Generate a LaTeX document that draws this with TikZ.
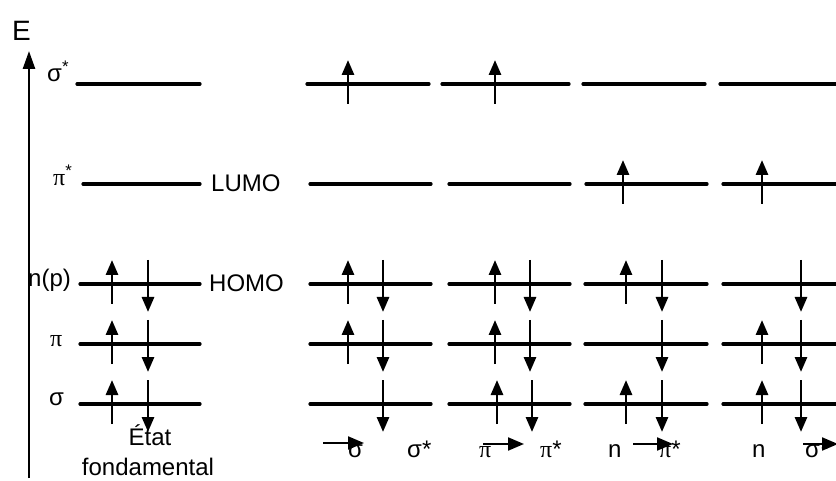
\documentclass[tikz,border=0pt]{standalone}
\usepackage{fontspec}
\setmainfont{Liberation Sans}
\newfontfamily\pifont{Liberation Serif}
\usetikzlibrary{arrows.meta}
\newcommand{\mylvl}[4]{\coordinate (#1a) at (#2,#4); \coordinate (#1b) at (#3,#4); \draw[levelline] (#1a) -- (#1b);}
\newcommand{\myup}[3]{\coordinate (#1a) at (#2,#3+20); \coordinate (#1b) at (#2,#3-24); \draw[spinup] (#1a) -- (#1b);}
\newcommand{\mydn}[3]{\coordinate (#1a) at (#2,#3-24); \coordinate (#1b) at (#2,#3+28); \draw[spinup] (#1a) -- (#1b);}
\newcommand{\mytr}[4]{\coordinate (#1a) at (#2,#4); \coordinate (#1b) at (#3,#4); \draw[trans] (#1a) -- (#1b);}
\begin{document}
\begin{tikzpicture}[x=1pt,y=-1pt,
  levelline/.style={line width=3.2pt,line cap=round},
  spinup/.style={line width=2.8pt,-{Triangle[width=12pt,length=15pt]}},
  trans/.style={line width=2.2pt,-{Triangle[width=13pt,length=16pt]}},
  axisline/.style={line width=2.6pt,-{Triangle[width=12pt,length=18pt]}},
  lbl/.style={inner sep=0pt,anchor=base west,font=\fontsize{24}{28}\selectfont},
  every node/.style={text=black}]
\useasboundingbox (0,0) rectangle (836,481);
% axis
\coordinate (ax0) at (29,478);
\coordinate (ax1) at (29,51);
\draw[axisline] (ax0) -- (ax1);
\node[lbl,font=\fontsize{28}{32}\selectfont] (E) at (12,41) {E};
% left column
\mylvl{L5}{77}{200}{84}
\mylvl{L4}{83}{200}{184}
\mylvl{L3}{80}{200}{284}
\mylvl{L2}{80}{200}{344}
\mylvl{L1}{80}{200}{404}
\myup{Lu3}{112}{284} \mydn{Ld3}{148}{284}
\myup{Lu2}{112}{344} \mydn{Ld2}{148}{344}
\myup{Lu1}{112}{404} \mydn{Ld1}{148}{404}
\node[lbl] (ls5) at (47,82) {σ\textsuperscript{*}};
\node[lbl] (ls4) at (53,186) {{\pifont π}\textsuperscript{*}};
\node[lbl] (ls3) at (28,287) {n(p)};
\node[lbl] (ls2) at (50,346) {{\pifont π}};
\node[lbl] (ls1) at (49,405) {σ};
\node[lbl] (lumo) at (211,192) {LUMO};
\node[lbl] (homo) at (209,292) {HOMO};
\node[lbl,anchor=base] (etat) at (150,445) {État};
\node[lbl,anchor=base] (fond) at (148,475) {fondamental};
% column 1
\mylvl{A5}{307}{429}{84}
\mylvl{A4}{310}{431}{184}
\mylvl{A3}{310}{431}{284}
\mylvl{A2}{310}{431}{344}
\mylvl{A1}{310}{431}{404}
\myup{Au5}{348}{84}
\myup{Au3}{348}{284} \mydn{Ad3}{383}{284}
\myup{Au2}{348}{344} \mydn{Ad2}{383}{344}
\mydn{Ad1}{383}{404}
% column 2
\mylvl{B5}{442}{569}{84}
\mylvl{B4}{449}{570}{184}
\mylvl{B3}{449}{570}{284}
\mylvl{B2}{449}{570}{344}
\mylvl{B1}{449}{570}{404}
\myup{Bu5}{495}{84}
\myup{Bu3}{495}{284} \mydn{Bd3}{530}{284}
\myup{Bu2}{495}{344} \mydn{Bd2}{530}{344}
\myup{Bu1}{497}{404} \mydn{Bd1}{532}{404}
% column 3
\mylvl{C5}{583}{705}{84}
\mylvl{C4}{586}{707}{184}
\mylvl{C3}{585}{707}{284}
\mylvl{C2}{585}{707}{344}
\mylvl{C1}{585}{707}{404}
\myup{Cu4}{623}{184}
\myup{Cu3}{626}{284} \mydn{Cd3}{662}{284}
\mydn{Cd2}{662}{344}
\myup{Cu1}{626}{404} \mydn{Cd1}{662}{404}
% column 4
\mylvl{D5}{720}{836}{84}
\mylvl{D4}{723}{836}{184}
\mylvl{D3}{723}{836}{284}
\mylvl{D2}{723}{836}{344}
\mylvl{D1}{723}{836}{404}
\myup{Du4}{762}{184}
\mydn{Dd3}{801}{284}
\myup{Du2}{762}{344} \mydn{Dd2}{801}{344}
\myup{Du1}{762}{404} \mydn{Dd1}{801}{404}
% bottom transition labels
\node[lbl] (t1a) at (348,457) {σ};
\node[lbl] (t1b) at (407,457) {σ*};
\mytr{T1}{323}{364}{443}
\node[lbl] (t2a) at (479,457) {{\pifont π}};
\node[lbl] (t2b) at (540,457) {{\pifont π}*};
\mytr{T2}{483}{524}{444}
\node[lbl] (t3a) at (608,457) {n};
\node[lbl] (t3b) at (659,457) {{\pifont π}*};
\mytr{T3}{633}{673}{444}
\node[lbl] (t4a) at (752,457) {n};
\node[lbl] (t4b) at (805,457) {σ*};
\mytr{T4}{803}{838}{444}
\end{tikzpicture}
\end{document}
